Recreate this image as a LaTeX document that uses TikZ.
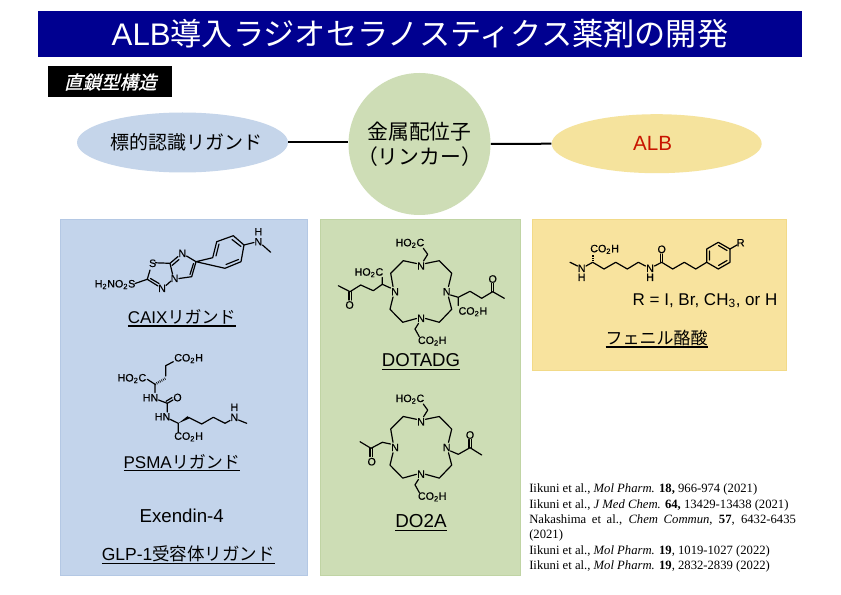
\documentclass[tikz,border=0pt]{standalone}
\usepackage{fontspec}
\usetikzlibrary{shapes.geometric}
\setmainfont{Liberation Sans}
\newfontfamily\jp{Noto Sans CJK JP}
\newfontfamily\jpslant[FakeSlant=0.25,FakeBold=1]{Noto Sans CJK JP}
\newfontfamily\refserif{Liberation Serif}
\newfontfamily\atomf[FakeBold=0.35]{Liberation Sans}
\definecolor{navy}{HTML}{000090}
\definecolor{bluefill}{HTML}{C5D5EA}
\definecolor{greenfill}{HTML}{CEDDB6}
\definecolor{yellowfill}{HTML}{F5E39D}
\definecolor{bluepanel}{HTML}{C3D4EB}
\definecolor{bluepanelb}{HTML}{B4C8E4}
\definecolor{greenpanel}{HTML}{CDDDB5}
\definecolor{greenpanelb}{HTML}{C0D4A4}
\definecolor{yellowpanel}{HTML}{F8E39E}
\definecolor{yellowpanelb}{HTML}{F2DA88}
\definecolor{albred}{HTML}{C81400}
\newcommand{\px}[1]{\fontsize{\dimexpr#1pt*3/4\relax}{\dimexpr#1pt*9/10\relax}\selectfont}
\newsavebox{\ulbox}
\newcommand{\ulin}[1]{\sbox{\ulbox}{#1}\rlap{\rule[-2.4pt]{\wd\ulbox}{0.95pt}}\usebox{\ulbox}}
\tikzset{
 x=0.75pt,y=-0.75pt,
 panel/.style={draw=#1,line width=0.6pt},
 atom/.style={inner sep=0pt,font=\px{10.7}\atomf},
 atoml/.style={atom,anchor=west},
 atomr/.style={atom,anchor=east},
 bond/.style={line width=0.9pt,line cap=round,line join=round},
 hash/.style={line width=1.7pt,dash pattern=on 0.5pt off 0.9pt},
 wedge/.style={fill=black,draw=none},
 link/.style={line width=1.5pt},
 lab/.style={inner sep=0pt,anchor=base,font=\px{17}},
 jplab/.style={inner sep=0pt,font=\px{19}\jp,align=center},
}
\begin{document}
\begin{tikzpicture}
\useasboundingbox (0,0) rectangle (841,595);
\fill[white] (0,0) rectangle (841,595);
% title
\node[fill=navy,minimum width=764*0.75pt,minimum height=46*0.75pt,inner sep=0pt,text=white,font=\px{31.2}] (title) at (420,34) {ALB{\jp 導入ラジオセラノスティクス薬剤の開発}};
\node[fill=black,minimum width=124*0.75pt,minimum height=31*0.75pt,inner sep=0pt,text=white,font=\px{18.5}\jpslant] (tag) at (110.3,82) {直鎖型構造};
% panels
\fill[bluepanel,panel=bluepanelb] (60,219) rectangle (307,575);
\fill[greenpanel,panel=greenpanelb] (320,219) rectangle (520,575);
\fill[yellowpanel,panel=yellowpanelb] (532,219) rectangle (786,370);
% top row
\node[ellipse,fill=bluefill,minimum width=211*0.75pt,minimum height=60*0.75pt,jplab,inner xsep=-30pt,inner ysep=-10pt] (target) at (182.5,142.5) {\hspace*{6pt}標的認識リガンド};
\node[circle,fill=greenfill,minimum width=142*0.75pt,jplab,font=\px{20.8}\jp,align=center] (metal) at (419.5,144) {金属配位子\\（リンカー）};
\node[ellipse,fill=yellowfill,minimum width=210*0.75pt,minimum height=59*0.75pt,inner sep=0pt,text=albred,font=\px{20.6}] (alb) at (656.7,143.7) {\hspace*{-6pt}ALB};
\draw[link] (target.east) -- (metal.west |- target.east);
\draw[link] (metal.east) -- (alb.west);
% captions
\node[lab] (c1) at (181.7,323.3) {\ulin{CAIX{\jp リガンド}}};
\node[lab] (c2) at (181.7,468) {\ulin{PSMA{\jp リガンド}}};
\node[lab,font=\px{18.7}] (c3) at (181.7,522.7) {Exendin-4};
\node[lab,font=\px{17.5}] (c4) at (188.3,560.7) {\ulin{GLP-1{\jp 受容体リガンド}}};
\node[lab,font=\px{18.6}] (c5) at (421,366.7) {\ulin{DOTADG}};
\node[lab,font=\px{18.8}] (c6) at (421,527.7) {\ulin{DO2A}};
\node[lab] (c7) at (705,305) {R = I, Br, CH\textsubscript{3}, or H};
\node[lab] (c8) at (656.7,344.5) {\ulin{\jp フェニル酪酸}};
% references
\node[inner sep=0pt,anchor=north west,align=left,font={\fontsize{9.5pt}{11.6pt}\selectfont\refserif}] (refs) at (529,483.5) {%
Iikuni et al., \textit{Mol Pharm.} \textbf{18,} 966-974 (2021)\\
Iikuni et al., \textit{J Med Chem.} \textbf{64,} 13429-13438 (2021)\\
\makebox[200pt][s]{Nakashima et al., \textit{Chem Commun}, \textbf{57}, 6432-6435}\\
(2021)\\
Iikuni et al., \textit{Mol Pharm.} \textbf{19}, 1019-1027 (2022)\\
Iikuni et al., \textit{Mol Pharm.} \textbf{19}, 2832-2839 (2022)};
% CAIX ligand
\draw[bond] (135,283.5) -- (147.3,279.3) -- (150,270) (155.5,262.8) -- (170,263.3) -- (178,256.5)
  (170,263.3) -- (172.5,274) (186.5,256) -- (196,261.7) -- (191.7,276.7) -- (179,278.5)
  (171,281) -- (166,285.5) (158,286) -- (147.3,279.3);
\draw[bond] (172,265.5) -- (179,259.5) (150.5,278.5) -- (159,283.5) (193.5,263.5) -- (190,274.5);
\draw[bond] (196,261.7) -- (212.7,257.7) -- (216.7,241.7) -- (233.3,235.7) -- (244,245) -- (241,261.7) -- (225,268.3) -- cycle;
\draw[bond] (216,256) -- (219,244) (232,239.5) -- (241,246.5) (238.5,259.5) -- (226,264.5);
\draw[bond] (244,245) -- (254,242.5) (262.5,245) -- (270.7,252.3);
\node[atom] (a1) at (115,284.5) {H\textsubscript{2}NO\textsubscript{2}S};
\node[atom] (a2) at (152.7,263.3) {S};
\node[atom] (a3) at (182.3,253.3) {N};
\node[atom] (a4) at (174.5,278.3) {N};
\node[atom] (a5) at (162,288.3) {N};
\node[atom] (a6) at (258.3,241.7) {N};
\node[atom] (a7) at (258.3,231.7) {H};
% PSMA ligand
\draw[bond] (173.3,361.7) -- (165.7,365.7) -- (165.7,376);
\draw[hash] (155,384.3) -- (165.7,378.3);
\draw[bond] (147.3,379.3) -- (155,384.3) -- (155,392.5) (158.5,400) -- (167.3,403.3) -- (167.3,412) (170,419.3) -- (178.3,423.3) -- (178.3,432.5);
\draw[bond] (167.3,403.3) -- (173,400) (166,401.3) -- (172,397.6);
\fill[wedge] (178.3,423.3) -- (187.5,416.2) -- (189,418.6) -- cycle;
\draw[bond] (188.3,417.3) -- (201.7,424) -- (213.3,417.3) -- (225,423.3) -- (230,420.5) (238.5,420) -- (246.7,423.3);
\node[atoml] (p1) at (174,358.5) {CO\textsubscript{2}H};
\node[atomr] (p2) at (146.5,378.5) {HO\textsubscript{2}C};
\node[atom] (p3) at (150.5,397.7) {HN};
\node[atom] (p4) at (177.5,397.5) {O};
\node[atom] (p5) at (162.5,416.7) {HN};
\node[atoml] (p6) at (174,436.8) {CO\textsubscript{2}H};
\node[atom] (p7) at (234.3,417.3) {N};
\node[atom] (p8) at (234.3,407.3) {H};
% DOTADG
\begin{scope}
\draw[bond] (416.5,263.5) -- (403.3,260.7) -- (390.7,273.3) -- (393,286.5) (393,297) -- (390,309.3) -- (402.7,322.3) -- (416.5,318.5)
 (425.5,318.5) -- (439.3,322.3) -- (451.7,309.3) -- (448.5,297) (448.5,286.5) -- (451.7,273.3) -- (439.3,260.7) -- (425.5,263.5);
\draw[bond] (423.5,261) -- (427.7,254.3) -- (423.3,248.3);
\draw[bond] (418.5,323.5) -- (415,329) -- (419.3,336.7);
\node[atom] (d1) at (421,266) {N};
\node[atom] (d2) at (395,291.7) {N};
\node[atom] (d3) at (446.7,291.7) {N};
\node[atom] (d4) at (421,318.3) {N};
\node[atomr] (d5) at (424.5,243.3) {HO\textsubscript{2}C};
\node[atoml] (d6) at (417.7,341) {CO\textsubscript{2}H};
\end{scope}
\draw[bond] (390.5,288) -- (382.3,284.3) -- (382.3,277.5) (382.3,284.3) -- (373.3,290.7) -- (360.7,285) -- (350,291.7) -- (338.3,285.7);
\draw[bond] (349,291.7) -- (349,300) (351.2,291.7) -- (351.2,300);
\node[atomr] (d7) at (383.5,272.7) {HO\textsubscript{2}C};
\node[atom] (d8) at (349.6,305) {O};
\draw[bond] (450.5,295) -- (458.3,297.3) -- (458.3,305.5) (458.3,297.3) -- (470,291.3) -- (481.7,298.3) -- (492.7,291.7) -- (504.3,298.3);
\draw[bond] (491.6,291.7) -- (491.6,283.5) (493.8,291.7) -- (493.8,283.5);
\node[atoml] (d9) at (458.3,311.7) {CO\textsubscript{2}H};
\node[atom] (d10) at (492.7,279) {O};
% DO2A
\begin{scope}[yshift=-155.8*0.75pt]
\draw[bond] (416.5,263.5) -- (403.3,260.7) -- (390.7,273.3) -- (393,286.5) (393,297) -- (390,309.3) -- (402.7,322.3) -- (416.5,318.5)
 (425.5,318.5) -- (439.3,322.3) -- (451.7,309.3) -- (448.5,297) (448.5,286.5) -- (451.7,273.3) -- (439.3,260.7) -- (425.5,263.5);
\draw[bond] (423.5,261) -- (427.7,254.3) -- (423.3,248.3);
\draw[bond] (418.5,323.5) -- (415,329) -- (419.3,336.7);
\node[atom] (e1) at (421,266) {N};
\node[atom] (e2) at (395,291.7) {N};
\node[atom] (e3) at (446.7,291.7) {N};
\node[atom] (e4) at (421,318.3) {N};
\node[atomr] (e5) at (424.5,243.3) {HO\textsubscript{2}C};
\node[atoml] (e6) at (417.7,341) {CO\textsubscript{2}H};
\end{scope}
\draw[bond] (390.5,444) -- (382.3,442.3) -- (371,448.3) -- (360,441.7);
\draw[bond] (370,448.3) -- (370,456.5) (372.2,448.3) -- (372.2,456.5);
\node[atom] (e7) at (371.7,461.7) {O};
\draw[bond] (450.5,451) -- (458.3,454.3) -- (470,447.7) -- (481.7,455);
\draw[bond] (468.9,447.7) -- (468.9,439.5) (471.1,447.7) -- (471.1,439.5);
\node[atom] (e8) at (470,435) {O};
% Phenylbutyric acid
\draw[bond] (570,262.3) -- (577.5,266) (586,266) -- (592.7,262.3) -- (604,269) -- (615.7,262.3) -- (627.3,269) -- (638.3,262.3) -- (645.5,266)
 (654.5,266) -- (661.7,262.3) -- (672.7,269) -- (684.3,262.3) -- (695.7,269) -- (706.7,262.3);
\draw[hash] (592.7,262.3) -- (592.7,254.5);
\draw[bond] (660.6,262.3) -- (660.6,254) (662.8,262.3) -- (662.8,254);
\draw[bond] (706.7,262.3) -- (706.7,249) -- (718.3,242.3) -- (730,249) -- (730,262.3) -- (718.3,269) -- cycle;
\draw[bond] (709.5,260) -- (709.5,251) (718.5,245.5) -- (727,250.5) (727,260.5) -- (718.5,265.5);
\draw[bond] (730,249) -- (737,245);
\node[atoml] (f1) at (590,249.3) {CO\textsubscript{2}H};
\node[atom] (f2) at (581.7,268.3) {N};
\node[atom] (f3) at (581.7,277.3) {H};
\node[atom] (f4) at (650,268.3) {N};
\node[atom] (f5) at (650,277.3) {H};
\node[atom] (f6) at (661.7,249.3) {O};
\node[atom] (f7) at (740.7,242.7) {R};
\end{tikzpicture}
\end{document}
